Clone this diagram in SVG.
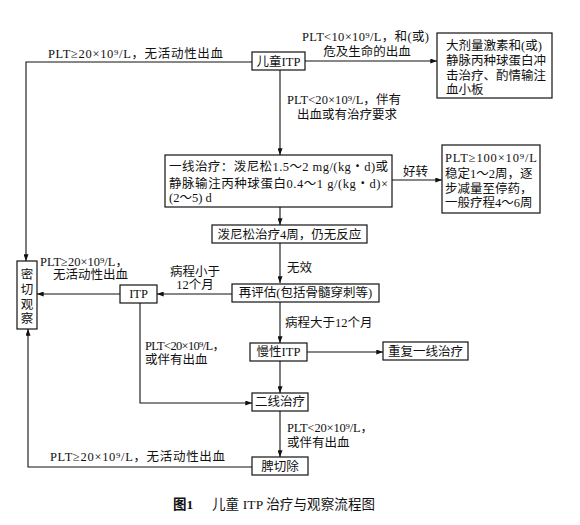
<svg xmlns="http://www.w3.org/2000/svg" width="580" height="525" viewBox="0 0 580 525">
<defs>
<marker id="ah" viewBox="0 0 8 6" refX="8" refY="3" markerWidth="7" markerHeight="5" orient="auto" markerUnits="userSpaceOnUse">
<path d="M0,0 L8,3 L0,6 Z" fill="#111"/>
</marker>
</defs>
<style>
text{font-family:"Liberation Serif","Noto Sans CJK SC",serif;font-size:12.5px;fill:#111}
.box{fill:#fff;stroke:#111;stroke-width:1.2}
.c{text-anchor:middle}
.ln{fill:none;stroke:#111;stroke-width:1.1;marker-end:url(#ah)}
.cap{font-size:13.5px}
.b{font-weight:bold}
</style>
<rect width="580" height="525" fill="#fff"/>

<g id="connectors">
<path class="ln" d="M252,62 H26 V261"/>
<path class="ln" d="M305,61 H437"/>
<path class="ln" d="M280,70 V155"/>
<path class="ln" d="M392,180 H442"/>
<path class="ln" d="M280,207 V225"/>
<path class="ln" d="M280,243 V283"/>
<path class="ln" d="M232,294 H157"/>
<path class="ln" d="M120,294 H37"/>
<path class="ln" d="M280,302 V343"/>
<path class="ln" d="M307,352 H383"/>
<path class="ln" d="M280,361 V393"/>
<path class="ln" d="M140,303 V403 H252"/>
<path class="ln" d="M280,411 V457"/>
<path class="ln" d="M252,467 H28 V329"/>
</g>

<g id="labels">
<text x="48" y="58" textLength="175" lengthAdjust="spacing">PLT≥20×10⁹/L，无活动性出血</text>
<text x="302" y="41" textLength="127" lengthAdjust="spacing">PLT&lt;10×10⁹/L，和(或)</text>
<text x="367" y="56" class="c">危及生命的出血</text>
<text x="287" y="104" textLength="114" lengthAdjust="spacing">PLT&lt;20×10⁹/L，伴有</text>
<text x="297" y="119">出血或有治疗要求</text>
<text x="403" y="176">好转</text>
<text x="287" y="272">无效</text>
<text x="195" y="276" class="c">病程小于</text>
<text x="195" y="289" class="c">12个月</text>
<text x="40" y="266" textLength="88" lengthAdjust="spacing">PLT≥20×10⁹/L，</text>
<text x="53" y="279">无活动性出血</text>
<text x="285" y="327">病程大于12个月</text>
<text x="145" y="350" textLength="80" lengthAdjust="spacing">PLT&lt;20×10⁹/L，</text>
<text x="145" y="364">或伴有出血</text>
<text x="287" y="432" textLength="86" lengthAdjust="spacing">PLT&lt;20×10⁹/L，</text>
<text x="287" y="447">或伴有出血</text>
<text x="50" y="461" textLength="175" lengthAdjust="spacing">PLT≥20×10⁹/L，无活动性出血</text>
</g>

<g id="n-child-itp">
<rect class="box" x="252" y="52" width="53" height="18"/>
<text x="278.5" y="66" class="c">儿童ITP</text>
</g>

<g id="n-highdose">
<rect class="box" x="437" y="33" width="115" height="65"/>
<text x="446" y="50">大剂量激素和(或)</text>
<text x="446" y="65">静脉丙种球蛋白冲</text>
<text x="446" y="80">击治疗、酌情输注</text>
<text x="446" y="94">血小板</text>
</g>

<g id="n-first-line">
<rect class="box" x="165" y="155" width="227" height="52"/>
<text x="169" y="171" textLength="219" lengthAdjust="spacing">一线治疗：泼尼松1.5～2 mg/(kg・d)或</text>
<text x="169" y="188" textLength="219" lengthAdjust="spacing">静脉输注丙种球蛋白0.4～1 g/(kg・d)×</text>
<text x="169" y="202">(2～5) d</text>
</g>

<g id="n-improve">
<rect class="box" x="442" y="145" width="98" height="68"/>
<text x="445" y="162" textLength="92" lengthAdjust="spacing">PLT≥100×10⁹/L</text>
<text x="445" y="178">稳定1～2周，逐</text>
<text x="445" y="193">步减量至停药，</text>
<text x="445" y="207">一般疗程4～6周</text>
</g>

<g id="n-pred4w">
<rect class="box" x="212" y="225" width="155" height="18"/>
<text x="289.5" y="239" class="c">泼尼松治疗4周，仍无反应</text>
</g>

<g id="n-reeval">
<rect class="box" x="232" y="284" width="147" height="18"/>
<text x="305.5" y="297" class="c">再评估(包括骨髓穿刺等)</text>
</g>

<g id="n-itp">
<rect class="box" x="120" y="285" width="37" height="18"/>
<text x="138.5" y="298" class="c">ITP</text>
</g>

<g id="n-observe">
<rect class="box" x="17" y="261" width="20" height="68"/>
<text x="27" y="279" class="c">密</text>
<text x="27" y="294" class="c">切</text>
<text x="27" y="309" class="c">观</text>
<text x="27" y="323" class="c">察</text>
</g>

<g id="n-chronic">
<rect class="box" x="250" y="343" width="57" height="18"/>
<text x="278.5" y="356" class="c">慢性ITP</text>
</g>

<g id="n-repeat">
<rect class="box" x="383" y="342" width="85" height="18"/>
<text x="425.5" y="356" class="c">重复一线治疗</text>
</g>

<g id="n-second-line">
<rect class="box" x="252" y="393" width="56" height="18"/>
<text x="280" y="406" class="c">二线治疗</text>
</g>

<g id="n-splenectomy">
<rect class="box" x="252" y="457" width="56" height="18"/>
<text x="280" y="471" class="c">脾切除</text>
</g>

<g id="caption">
<text x="173" y="509" class="cap b">图1</text>
<text x="212" y="509" class="cap" textLength="163" lengthAdjust="spacing">儿童 ITP 治疗与观察流程图</text>
</g>
</svg>
